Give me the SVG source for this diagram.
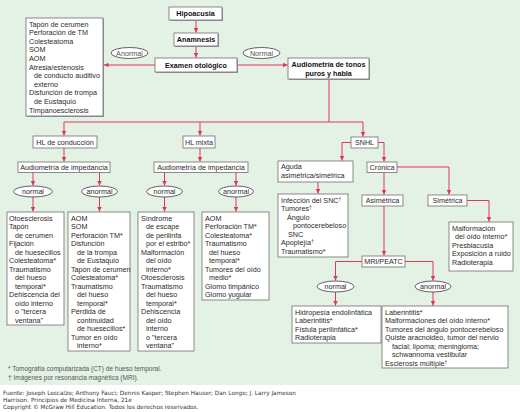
<svg xmlns="http://www.w3.org/2000/svg" width="520" height="412" viewBox="0 0 520 412">
<defs>
<marker id="ah" viewBox="0 0 6 6" refX="6" refY="3" markerWidth="4.5" markerHeight="4.5" markerUnits="userSpaceOnUse" orient="auto">
<path d="M0,0 L6,3 L0,6 z" fill="#e2365f"/>
</marker>
</defs>
<style>
text{font-family:"Liberation Sans",Arial,sans-serif;font-size:7.2px;fill:#2a2a2a}
.b{font-weight:bold;font-size:7.2px;fill:#111}
.c{text-anchor:middle}
.box{fill:#fff;stroke:#6e6e6e;stroke-width:0.8}
.sh{fill:#9a9a9a}
.el{fill:#fff;stroke:#3a3a3a;stroke-width:0.8}
.ln{fill:none;stroke:#e2365f;stroke-width:1}
.ar{marker-end:url(#ah)}
.sup{font-size:5px}
.fn{font-size:6.5px;fill:#555}
.cr{font-family:"DejaVu Sans",Verdana,sans-serif;font-size:5.75px;fill:#333}
</style>
<rect x="0" y="0" width="520" height="385" fill="#e4f2e6"/>

<g id="connectors">
<path class="ln ar" d="M196,20 V32.5"/>
<path class="ln ar" d="M196,46 V57.5"/>
<path class="ln ar" d="M155,65 H104"/>
<path class="ln ar" d="M237,65 H287.5"/>
<path class="ln" d="M329,79 V122"/>
<path class="ln" d="M64,122 H363"/>
<path class="ln ar" d="M64,122 V135.5"/>
<path class="ln ar" d="M200,122 V135.5"/>
<path class="ln ar" d="M363,122 V136.5"/>
<path class="ln ar" d="M64,148 V161.5"/>
<path class="ln ar" d="M200,148 V161.5"/>
<path class="ln ar" d="M33,172 V185.5"/>
<path class="ln ar" d="M99.5,172 V185.5"/>
<path class="ln ar" d="M164.5,172 V185.5"/>
<path class="ln ar" d="M236,172 V185.5"/>
<path class="ln ar" d="M33,197 V211.5"/>
<path class="ln ar" d="M99.5,197 V211.5"/>
<path class="ln ar" d="M164.5,197 V211.5"/>
<path class="ln ar" d="M236,197 V211.5"/>
<path class="ln ar" d="M351,142.5 H342 V160.5"/>
<path class="ln ar" d="M378,142.5 H384 V161.5"/>
<path class="ln ar" d="M318,182 V193.5"/>
<path class="ln ar" d="M384,172 V194.5"/>
<path class="ln ar" d="M397,167 H449 V194.5"/>
<path class="ln ar" d="M467,200.5 H489 V221.5"/>
<path class="ln ar" d="M384,206 V255.5"/>
<path class="ln ar" d="M362,261.5 H335.5 V280.5"/>
<path class="ln ar" d="M405,261.5 H433 V280.5"/>
<path class="ln ar" d="M335.5,292 V305.5"/>
<path class="ln ar" d="M433,292 V305.5"/>
</g>

<g id="hipoacusia">
<rect class="sh" x="170" y="8" width="53" height="13"/>
<rect class="box" x="169" y="7" width="53" height="13"/>
<text class="b c" x="195.5" y="16">Hipoacusia</text>
</g>
<g id="anamnesis">
<rect class="sh" x="175" y="34" width="44" height="13"/>
<rect class="box" x="174" y="33" width="44" height="13"/>
<text class="b c" x="196" y="42">Anamnesis</text>
</g>
<g id="examen">
<rect class="sh" x="156" y="59" width="82" height="14"/>
<rect class="box" x="155" y="58" width="82" height="14"/>
<text class="b c" x="196" y="67.5">Examen otológico</text>
</g>
<g id="anormal-label">
<ellipse class="el" cx="129.5" cy="53" rx="18.5" ry="5.5"/>
<text class="c" x="129.5" y="55.6" style="fill:#555">Anormal</text>
</g>
<g id="normal-label">
<ellipse class="el" cx="261.5" cy="53" rx="18.5" ry="5.5"/>
<text class="c" x="261.5" y="55.6" style="fill:#555">Normal</text>
</g>
<g id="causas-externas">
<rect class="sh" x="27" y="19" width="77" height="98"/>
<rect class="box" x="26" y="18" width="77" height="98"/>
<text x="29" y="26.5">Tapón de cerumen</text>
<text x="29" y="35.1">Perforación de TM</text>
<text x="29" y="43.7">Colesteatoma</text>
<text x="29" y="52.3">SOM</text>
<text x="29" y="60.9">AOM</text>
<text x="29" y="69.5">Atresia/estenosis</text>
<text x="34" y="78.1">de conducto auditivo</text>
<text x="34" y="86.7">externo</text>
<text x="29" y="95.3">Disfunción de trompa</text>
<text x="34" y="103.9">de Eustaquio</text>
<text x="29" y="112.5">Timpanoesclerosis</text>
</g>
<g id="audiometria-tonos">
<rect class="sh" x="289" y="59" width="81" height="21"/>
<rect class="box" x="288" y="58" width="81" height="21"/>
<text class="b c" x="328.5" y="66.5">Audiometría de tonos</text>
<text class="b c" x="328.5" y="75.5">puros y habla</text>
</g>

<g id="hl-conduccion">
<rect class="box" x="33" y="136" width="64" height="12"/>
<text class="c" x="65" y="144.6">HL de conducción</text>
</g>
<g id="hl-mixta">
<rect class="box" x="183" y="136" width="32" height="12"/>
<text class="c" x="199" y="144.6">HL mixta</text>
</g>
<g id="impedancia-conduccion">
<rect class="box" x="18" y="162" width="92" height="10.5"/>
<text class="c" x="64" y="169.8">Audiometría de impedancia</text>
</g>
<g id="impedancia-mixta">
<rect class="box" x="154" y="162" width="94" height="10.5"/>
<text class="c" x="201" y="169.8">Audiometría de impedancia</text>
</g>
<g id="c-normal">
<ellipse class="el" cx="33" cy="191.5" rx="19.5" ry="5.5"/>
<text class="c" x="33" y="194">normal</text>
</g>
<g id="c-anormal">
<ellipse class="el" cx="99.5" cy="191.5" rx="18" ry="5.5"/>
<text class="c" x="99.5" y="194">anormal</text>
</g>
<g id="m-normal">
<ellipse class="el" cx="164.5" cy="191.5" rx="18" ry="5.5"/>
<text class="c" x="164.5" y="194">normal</text>
</g>
<g id="m-anormal">
<ellipse class="el" cx="236" cy="191.5" rx="17.5" ry="5.5"/>
<text class="c" x="236" y="194">anormal</text>
</g>

<g id="lista-c-normal">
<rect class="box" x="7" y="212" width="57" height="113"/>
<text x="9" y="220.5">Otoesclerosis</text>
<text x="9" y="229">Tapón</text>
<text x="15" y="237.5">de cerumen</text>
<text x="9" y="246">Fijación</text>
<text x="15" y="254.5">de huesecillos</text>
<text x="9" y="263">Colesteatoma*</text>
<text x="9" y="271.5">Traumatismo</text>
<text x="15" y="280">del hueso</text>
<text x="15" y="288.5">temporal*</text>
<text x="9" y="297">Dehiscencia del</text>
<text x="15" y="305.5">oído interno</text>
<text x="15" y="314">o "tercera</text>
<text x="15" y="322.5">ventana"</text>
</g>
<g id="lista-c-anormal">
<rect class="box" x="68" y="212" width="62" height="139"/>
<text x="71" y="220.5">AOM</text>
<text x="71" y="229">SOM</text>
<text x="71" y="237.5">Perforación TM*</text>
<text x="71" y="246">Disfunción</text>
<text x="77" y="254.5">de la trompa</text>
<text x="77" y="263">de Eustaquio</text>
<text x="71" y="271.5">Tapón de cerumen</text>
<text x="71" y="280">Colesteatoma*</text>
<text x="71" y="288.5">Traumatismo</text>
<text x="77" y="297">del hueso</text>
<text x="77" y="305.5">temporal*</text>
<text x="71" y="314">Pérdida de</text>
<text x="77" y="322.5">continuidad</text>
<text x="77" y="331">de huesecillos*</text>
<text x="71" y="339.5">Tumor en oído</text>
<text x="77" y="348">interno*</text>
</g>
<g id="lista-m-normal">
<rect class="box" x="138" y="212" width="56" height="139"/>
<text x="141" y="220.5">Síndrome</text>
<text x="146" y="229">de escape</text>
<text x="146" y="237.5">de perilinfa</text>
<text x="146" y="246">por el estribo*</text>
<text x="141" y="254.5">Malformación</text>
<text x="146" y="263">del oído</text>
<text x="146" y="271.5">interno*</text>
<text x="141" y="280">Otoesclerosis</text>
<text x="141" y="288.5">Traumatismo</text>
<text x="146" y="297">del hueso</text>
<text x="146" y="305.5">temporal*</text>
<text x="141" y="314">Dehiscencia</text>
<text x="146" y="322.5">del oído</text>
<text x="146" y="331">interno</text>
<text x="146" y="339.5">o "tercera</text>
<text x="146" y="348">ventana"</text>
</g>
<g id="lista-m-anormal">
<rect class="box" x="202" y="212" width="67" height="88"/>
<text x="205" y="220.5">AOM</text>
<text x="205" y="229">Perforación TM*</text>
<text x="205" y="237.5">Colesteatoma*</text>
<text x="205" y="246">Traumatismo</text>
<text x="209" y="254.5">del hueso</text>
<text x="209" y="263">temporal*</text>
<text x="205" y="271.5">Tumores del oído</text>
<text x="209" y="280">medio*</text>
<text x="205" y="288.5">Glomo timpánico</text>
<text x="205" y="297">Glomo yugular</text>
</g>

<g id="snhl">
<rect class="box" x="351" y="137" width="27" height="11"/>
<text class="c" x="364.5" y="145.2">SNHL</text>
</g>
<g id="aguda">
<rect class="box" x="278" y="161" width="75" height="21"/>
<text x="281" y="169">Aguda</text>
<text x="281" y="178">asimétrica/simétrica</text>
</g>
<g id="cronica">
<rect class="box" x="367" y="162" width="30" height="10.5"/>
<text class="c" x="382" y="169.8">Crónica</text>
</g>
<g id="lista-aguda">
<rect class="box" x="278" y="194" width="70" height="63"/>
<text x="281" y="202.5">Infección del SNC<tspan class="sup" dy="-2">†</tspan></text>
<text x="281" y="211">Tumores<tspan class="sup" dy="-2">†</tspan></text>
<text x="287" y="219.5">Ángulo</text>
<text x="293" y="228">pontocerebeloso</text>
<text x="288" y="236.5">SNC</text>
<text x="281" y="245">Apoplejía<tspan class="sup" dy="-2">†</tspan></text>
<text x="281" y="253.5">Traumatismo*</text>
</g>
<g id="asimetrica">
<rect class="box" x="362" y="195" width="41" height="11"/>
<text class="c" x="382.5" y="203.2">Asimétrica</text>
</g>
<g id="simetrica">
<rect class="box" x="428" y="195" width="39" height="11"/>
<text class="c" x="447.5" y="203.2">Simétrica</text>
</g>
<g id="lista-simetrica">
<rect class="box" x="449" y="222" width="64" height="49"/>
<text x="452" y="230.5">Malformación</text>
<text x="455" y="239">del oído interno*</text>
<text x="452" y="247.5">Presbiacusia</text>
<text x="452" y="256">Exposición a ruido</text>
<text x="452" y="264.5">Radioterapia</text>
</g>
<g id="mri">
<rect class="box" x="362" y="256" width="43" height="11"/>
<text class="c" x="383.5" y="264.2">MRI/PEATC</text>
</g>
<g id="mri-normal">
<ellipse class="el" cx="335.5" cy="286.5" rx="18.5" ry="5.5"/>
<text class="c" x="335.5" y="289">normal</text>
</g>
<g id="mri-anormal">
<ellipse class="el" cx="433" cy="286.5" rx="18" ry="5.5"/>
<text class="c" x="433" y="289">anormal</text>
</g>
<g id="lista-mri-normal">
<rect class="box" x="292" y="306" width="89" height="37"/>
<text x="295" y="314.5">Hidropesía endolinfática</text>
<text x="295" y="323">Laberintitis*</text>
<text x="295" y="331.5">Fístula perilinfática*</text>
<text x="295" y="340">Radioterapia</text>
</g>
<g id="lista-mri-anormal">
<rect class="box" x="382" y="306" width="126" height="62"/>
<text x="385" y="314.5">Laberintitis*</text>
<text x="385" y="323">Malformaciones del oído interno*</text>
<text x="385" y="331.5">Tumores del ángulo pontocerebeloso</text>
<text x="385" y="340">Quiste aracnoideo, tumor del nervio</text>
<text x="392" y="348.5">facial; lipoma; meningioma;</text>
<text x="392" y="357">schwannoma vestibular</text>
<text x="385" y="365.5">Esclerosis múltiple<tspan class="sup" dy="-2">†</tspan></text>
</g>

<g id="notas">
<text class="fn" x="8" y="371">* Tomografía computarizada (CT) de hueso temporal.</text>
<text class="fn" x="8" y="380">† Imágenes por resonancia magnética (MRI).</text>
</g>
<g id="fuente">
<text class="cr" x="3" y="394.5">Fuente: Joseph Loscalzo; Anthony Fauci; Dennis Kasper; Stephen Hauser; Dan Longo; J. Larry Jameson</text>
<text class="cr" x="3" y="401.5">Harrison. Principios de Medicina Interna, 21e</text>
<text class="cr" x="3" y="408.5">Copyright © McGraw Hill Education. Todos los derechos reservados.</text>
</g>
</svg>
